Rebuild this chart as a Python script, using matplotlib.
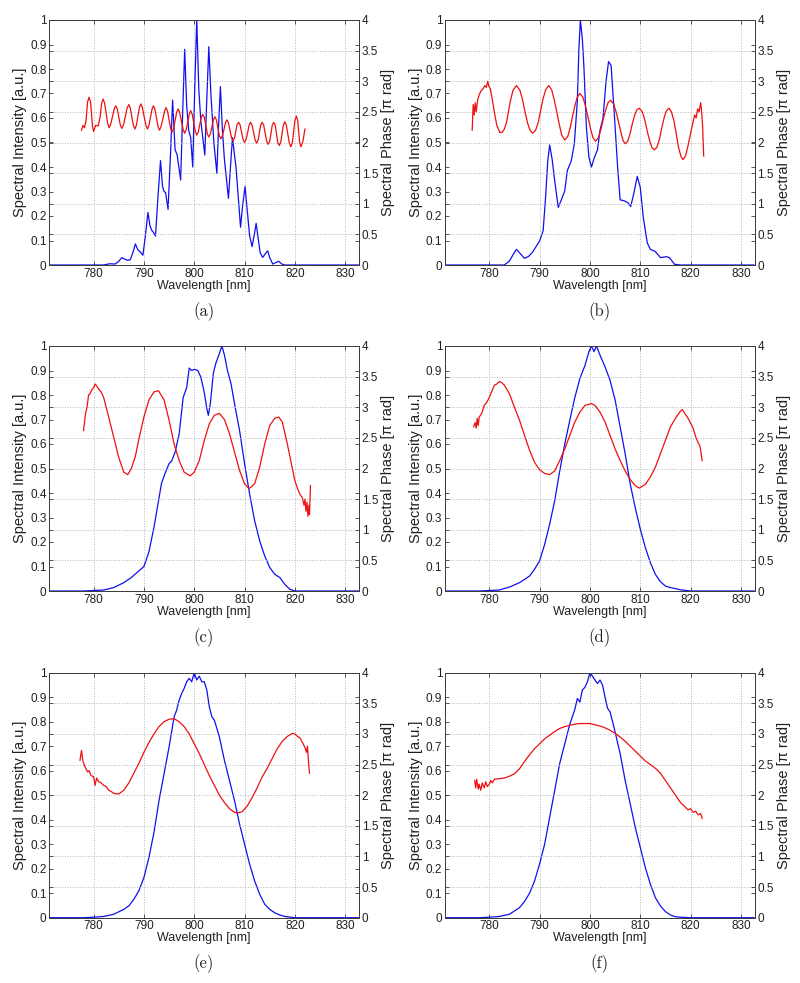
import matplotlib
matplotlib.use("Agg")
import matplotlib.pyplot as plt
from matplotlib.ticker import MultipleLocator, FormatStrFormatter

# ---- panel (a) ----
a_int_wl = [771.3, 782.0, 783.2, 784.3, 785.0, 785.6, 786.2, 786.8, 787.3, 787.8, 788.3, 788.8, 789.2, 789.8,
            790.3, 790.8, 791.2, 791.6, 791.9, 792.3, 792.8, 793.3, 793.7, 794.0, 794.3, 794.8, 795.3, 795.7,
            796.2, 796.6, 797.3, 797.7, 798.1, 798.5, 798.9, 799.3, 799.7, 800.1, 800.5, 800.9, 801.3, 802.1,
            802.5, 802.9, 803.3, 803.9, 804.5, 804.8, 805.2, 805.6, 806.0, 806.8, 807.2, 807.6, 808.0, 808.3,
            809.2, 809.6, 810.1, 810.5, 811.0, 811.5, 811.9, 812.3, 812.7, 813.1, 813.6, 814.1, 814.6, 815.0,
            815.6, 816.2, 816.8, 817.4, 818.0, 832.6]
a_int = [0, 0, 0.005, 0.004, 0.015, 0.030, 0.024, 0.019, 0.022, 0.050, 0.086, 0.062, 0.055, 0.040,
         0.120, 0.215, 0.160, 0.140, 0.133, 0.118, 0.280, 0.426, 0.320, 0.300, 0.296, 0.227, 0.460, 0.673,
         0.470, 0.450, 0.347, 0.620, 0.880, 0.650, 0.550, 0.520, 0.400, 0.720, 1.000, 0.720, 0.590, 0.449,
         0.680, 0.891, 0.700, 0.500, 0.374, 0.550, 0.728, 0.550, 0.430, 0.272, 0.400, 0.520, 0.450, 0.400,
         0.154, 0.240, 0.320, 0.230, 0.120, 0.075, 0.120, 0.170, 0.110, 0.050, 0.031, 0.045, 0.058, 0.030,
         0.004, 0.010, 0.015, 0.004, 0, 0]
a_ph_wl = [777.6, 777.9, 778.2, 778.5, 778.8, 779.1, 779.4, 779.6, 779.8, 780.0, 780.4, 780.9, 781.3, 781.6,
           781.9, 782.2, 782.5, 782.8, 783.1, 783.4, 783.75, 784.1, 784.4, 784.7, 785.0, 785.3, 785.6, 785.95,
           786.3, 786.65, 787.0, 787.3, 787.6, 787.9, 788.2, 788.5, 788.8, 789.1, 789.4, 789.7, 790.05, 790.4,
           790.7, 791.0, 791.3, 791.6, 791.9, 792.2, 792.5, 792.8, 793.1, 793.4, 793.75, 794.1, 794.4, 794.7,
           795.0, 795.3, 795.6, 795.9, 796.2, 796.5, 796.8, 797.1, 797.45, 797.8, 798.1, 798.4, 798.7, 799.0,
           799.3, 799.6, 799.9, 800.2, 800.5, 800.8, 801.1, 801.4, 801.7, 802.0, 802.3, 802.6, 802.9, 803.2,
           803.5, 803.8, 804.1, 804.4, 804.7, 805.0, 805.3, 805.6, 805.9, 806.2, 806.5, 806.8, 807.1, 807.4,
           807.7, 808.0, 808.25, 808.5, 808.8, 809.1, 809.4, 809.7, 810.0, 810.3, 810.6, 810.9, 811.2, 811.5,
           811.8, 812.1, 812.4, 812.7, 812.95, 813.2, 813.5, 813.8, 814.1, 814.4, 814.7, 815.0, 815.25, 815.5,
           815.8, 816.1, 816.35, 816.6, 816.9, 817.2, 817.45, 817.7, 818.0, 818.3, 818.6, 818.9, 819.2, 819.5,
           819.75, 820.0, 820.3, 820.55, 820.75, 820.95, 821.2, 821.6, 822.0]
a_ph = [2.20, 2.28, 2.24, 2.36, 2.66, 2.74, 2.66, 2.46, 2.26, 2.18, 2.28, 2.27, 2.42, 2.64,
        2.71, 2.64, 2.48, 2.31, 2.24, 2.30, 2.42, 2.55, 2.60, 2.55, 2.42, 2.29, 2.23, 2.29,
        2.42, 2.56, 2.62, 2.56, 2.42, 2.28, 2.22, 2.28, 2.42, 2.57, 2.63, 2.57, 2.42, 2.28,
        2.22, 2.28, 2.41, 2.54, 2.60, 2.54, 2.40, 2.26, 2.20, 2.26, 2.38, 2.51, 2.57, 2.51,
        2.37, 2.23, 2.17, 2.23, 2.36, 2.49, 2.55, 2.49, 2.35, 2.21, 2.15, 2.21, 2.33, 2.46,
        2.52, 2.46, 2.32, 2.18, 2.12, 2.17, 2.29, 2.41, 2.46, 2.41, 2.28, 2.14, 2.09, 2.14,
        2.25, 2.37, 2.42, 2.37, 2.24, 2.11, 2.06, 2.11, 2.21, 2.32, 2.37, 2.32, 2.20, 2.08,
        2.03, 2.07, 2.18, 2.29, 2.33, 2.29, 2.17, 2.05, 2.00, 2.05, 2.16, 2.28, 2.33, 2.28,
        2.16, 2.04, 1.99, 2.04, 2.16, 2.28, 2.33, 2.28, 2.15, 2.02, 1.97, 2.02, 2.15, 2.28,
        2.33, 2.28, 2.14, 2.00, 1.95, 2.01, 2.14, 2.28, 2.34, 2.28, 2.14, 1.99, 1.93, 2.00,
        2.18, 2.36, 2.43, 2.36, 2.18, 2.00, 1.93, 2.02, 2.22]

# ---- panel (b) ----
b_int_wl = [771.3, 783.0, 784.0, 784.8, 785.4, 786.0, 787.0, 787.8, 788.5, 789.3, 790.0, 790.7, 791.2, 791.6,
            792.0, 792.5, 793.0, 793.7, 794.2, 794.5, 795.0, 795.5, 796.3, 796.9, 797.5, 797.8, 798.1, 798.5,
            798.8, 799.3, 799.8, 800.3, 800.9, 801.5, 802.0, 802.6, 803.2, 803.7, 804.2, 804.8, 805.5, 806.0,
            806.8, 807.5, 808.1, 808.7, 809.4, 810.0, 810.6, 811.4, 812.0, 813.0, 814.0, 815.2, 815.8, 816.8,
            818.0, 832.6]
b_int = [0, 0, 0.016, 0.045, 0.064, 0.050, 0.027, 0.035, 0.050, 0.075, 0.098, 0.140, 0.280, 0.420,
         0.490, 0.430, 0.344, 0.235, 0.260, 0.276, 0.303, 0.385, 0.426, 0.495, 0.670, 0.880, 1.000, 0.920,
         0.810, 0.560, 0.440, 0.400, 0.440, 0.470, 0.550, 0.600, 0.750, 0.830, 0.815, 0.630, 0.400, 0.266,
         0.262, 0.255, 0.239, 0.290, 0.362, 0.317, 0.194, 0.090, 0.064, 0.055, 0.030, 0.034, 0.030, 0.003,
         0, 0]
b_ph_wl = [776.6, 776.8, 777.0, 777.2, 777.4, 777.7, 778.0, 778.4, 778.8, 779.1, 779.4, 779.7, 779.9, 780.2,
           780.5, 780.8, 781.1, 781.5, 782.1, 782.6, 783.0, 783.4, 783.8, 784.2, 784.7, 785.4, 786.1, 786.6,
           787.1, 787.6, 788.1, 788.6, 789.2, 789.7, 790.2, 790.7, 791.2, 791.8, 792.4, 792.9, 793.4, 793.9,
           794.4, 795.0, 795.6, 796.1, 796.6, 797.1, 797.5, 798.0, 798.6, 799.1, 799.6, 800.1, 800.6, 801.1,
           801.7, 802.2, 802.7, 803.2, 803.6, 804.1, 804.7, 805.2, 805.7, 806.2, 806.6, 807.0, 807.5, 808.0,
           808.4, 808.9, 809.3, 809.8, 810.4, 810.9, 811.4, 811.9, 812.3, 812.8, 813.3, 813.8, 814.3, 814.8,
           815.2, 815.7, 816.2, 816.7, 817.2, 817.6, 818.1, 818.5, 819.0, 819.5, 820.0, 820.4, 820.8, 821.1,
           821.4, 821.7, 822.0, 822.2, 822.4, 822.6]
b_ph = [2.20, 2.62, 2.45, 2.65, 2.50, 2.70, 2.78, 2.85, 2.88, 2.93, 2.90, 3.00, 2.92, 2.88,
        2.75, 2.60, 2.45, 2.28, 2.16, 2.17, 2.22, 2.32, 2.50, 2.68, 2.85, 2.93, 2.85, 2.70,
        2.50, 2.32, 2.20, 2.15, 2.20, 2.32, 2.52, 2.72, 2.86, 2.93, 2.86, 2.70, 2.50, 2.30,
        2.12, 2.04, 2.10, 2.25, 2.45, 2.63, 2.74, 2.80, 2.74, 2.60, 2.42, 2.23, 2.08, 2.02,
        2.08, 2.22, 2.40, 2.55, 2.65, 2.69, 2.63, 2.50, 2.33, 2.15, 2.03, 1.98, 2.02, 2.15,
        2.30, 2.45, 2.53, 2.56, 2.50, 2.37, 2.18, 2.02, 1.92, 1.88, 1.92, 2.05, 2.25, 2.42,
        2.52, 2.56, 2.50, 2.35, 2.12, 1.92, 1.77, 1.72, 1.78, 1.95, 2.15, 2.30, 2.45, 2.40,
        2.55, 2.50, 2.65, 2.50, 2.25, 1.78]

# ---- panel (c) ----
c_int_wl = [771.3, 778.0, 780.0, 782.0, 784.0, 786.0, 787.5, 789.0, 790.0, 791.0, 792.0, 793.0, 793.5, 794.2,
            795.0, 795.5, 796.2, 797.0, 797.8, 798.5, 799.0, 799.5, 800.0, 800.7, 801.3, 802.0, 802.5, 802.8,
            803.2, 803.8, 804.3, 805.0, 805.5, 806.0, 806.6, 807.3, 808.0, 809.0, 810.0, 811.0, 812.0, 813.0,
            814.0, 815.0, 816.0, 817.0, 818.0, 819.0, 820.0, 832.6]
c_int = [0, 0, 0.002, 0.004, 0.014, 0.034, 0.055, 0.082, 0.100, 0.160, 0.260, 0.380, 0.440, 0.480,
         0.520, 0.530, 0.567, 0.640, 0.790, 0.830, 0.910, 0.900, 0.905, 0.900, 0.874, 0.810, 0.745, 0.717,
         0.765, 0.890, 0.930, 0.970, 1.000, 0.963, 0.900, 0.847, 0.765, 0.656, 0.520, 0.396, 0.287, 0.205,
         0.143, 0.096, 0.068, 0.055, 0.027, 0.007, 0, 0]
c_ph_wl = [778.0, 778.2, 778.4, 778.7, 779.0, 779.3, 779.6, 780.0, 780.3, 780.6, 781.0, 781.5, 782.0, 783.0,
           784.0, 785.0, 786.0, 786.8, 787.5, 788.3, 789.0, 790.0, 791.0, 792.0, 792.9, 794.0, 795.0, 796.0,
           797.0, 798.0, 799.2, 800.0, 801.0, 802.0, 803.0, 804.0, 805.0, 806.0, 807.0, 808.0, 809.0, 810.0,
           810.9, 812.0, 813.0, 814.0, 815.0, 816.0, 816.8, 817.5, 818.5, 819.3, 820.0, 820.5, 821.0, 821.5,
           821.8, 822.0, 822.2, 822.4, 822.6, 822.8, 822.9, 823.1]
c_ph = [2.62, 2.75, 2.90, 3.00, 3.20, 3.22, 3.28, 3.32, 3.38, 3.35, 3.30, 3.25, 3.16, 2.84,
        2.51, 2.18, 1.94, 1.90, 2.00, 2.20, 2.48, 2.84, 3.12, 3.25, 3.27, 3.12, 2.79, 2.40,
        2.13, 1.94, 1.88, 1.94, 2.13, 2.46, 2.73, 2.87, 2.90, 2.80, 2.57, 2.27, 1.97, 1.75,
        1.67, 1.75, 2.02, 2.40, 2.70, 2.82, 2.84, 2.76, 2.40, 2.08, 1.80, 1.68, 1.58, 1.52,
        1.40, 1.50, 1.30, 1.45, 1.22, 1.40, 1.25, 1.72]

# ---- panel (d) ----
d_int_wl = [771.3, 778.0, 780.0, 782.0, 784.0, 786.0, 788.0, 789.0, 790.0, 791.0, 792.0, 793.0, 794.0, 795.0,
            796.0, 797.0, 798.0, 799.0, 799.8, 800.3, 800.8, 801.3, 802.0, 803.0, 804.0, 805.0, 806.0, 807.0,
            808.0, 809.0, 810.0, 811.0, 812.0, 813.0, 814.0, 815.0, 816.0, 818.0, 820.0, 832.6]
d_int = [0, 0, 0.002, 0.004, 0.016, 0.034, 0.061, 0.089, 0.123, 0.190, 0.273, 0.369, 0.490, 0.600,
         0.697, 0.790, 0.867, 0.920, 0.977, 1.000, 0.977, 1.000, 0.963, 0.915, 0.860, 0.780, 0.670, 0.560,
         0.437, 0.340, 0.253, 0.178, 0.116, 0.068, 0.038, 0.020, 0.014, 0.005, 0, 0]
d_ph_wl = [776.9, 777.2, 777.4, 777.6, 777.8, 778.0, 778.5, 779.0, 779.5, 780.0, 780.5, 781.0, 781.5, 782.0,
           782.5, 783.0, 784.0, 785.0, 786.0, 787.0, 788.0, 789.0, 790.0, 791.0, 792.0, 793.0, 794.0, 795.0,
           796.0, 797.0, 798.0, 799.0, 800.3, 801.0, 802.0, 803.0, 804.0, 805.0, 806.0, 807.0, 808.0, 809.0,
           809.8, 811.0, 812.0, 813.0, 814.0, 815.0, 816.0, 817.0, 818.0, 818.4, 819.0, 819.5, 820.0, 820.5,
           821.0, 821.5, 821.8, 822.0, 822.3]
d_ph = [2.68, 2.75, 2.66, 2.82, 2.70, 2.84, 2.90, 3.03, 3.08, 3.16, 3.26, 3.36, 3.38, 3.42,
        3.40, 3.36, 3.22, 3.00, 2.79, 2.54, 2.30, 2.10, 1.98, 1.92, 1.90, 1.96, 2.13, 2.32,
        2.54, 2.76, 2.92, 3.03, 3.06, 3.03, 2.92, 2.76, 2.54, 2.32, 2.13, 1.96, 1.82, 1.72,
        1.68, 1.74, 1.86, 2.02, 2.24, 2.46, 2.68, 2.82, 2.94, 2.96, 2.88, 2.82, 2.74, 2.66,
        2.52, 2.42, 2.38, 2.30, 2.13]

# ---- panel (e) ----
e_int_wl = [771.3, 778.0, 780.0, 782.0, 784.0, 786.0, 787.0, 788.0, 789.0, 790.0, 791.0, 792.0, 793.0, 794.0,
            795.0, 796.0, 796.5, 797.0, 797.5, 798.0, 798.5, 799.0, 799.5, 800.0, 800.5, 801.0, 801.5, 802.0,
            802.5, 803.0, 803.5, 804.0, 804.5, 805.0, 806.0, 807.0, 808.0, 809.0, 810.0, 811.0, 812.0, 813.0,
            814.0, 815.0, 816.0, 817.0, 818.0, 820.0, 832.6]
e_int = [0, 0, 0.002, 0.005, 0.014, 0.034, 0.048, 0.075, 0.110, 0.164, 0.246, 0.348, 0.478, 0.587,
         0.697, 0.820, 0.847, 0.888, 0.915, 0.936, 0.963, 0.977, 0.963, 1.000, 0.970, 0.986, 0.963, 0.963,
         0.929, 0.860, 0.820, 0.806, 0.772, 0.738, 0.642, 0.560, 0.478, 0.383, 0.300, 0.219, 0.150, 0.096,
         0.055, 0.034, 0.020, 0.011, 0.005, 0, 0]
e_ph_wl = [777.3, 777.6, 777.9, 778.2, 778.5, 778.8, 779.1, 779.5, 780.0, 780.3, 780.6, 781.0, 781.5, 782.0,
           782.5, 783.0, 783.5, 784.0, 785.0, 786.0, 787.0, 788.0, 789.0, 790.0, 791.0, 792.0, 793.0, 794.0,
           795.0, 796.0, 797.0, 798.0, 799.0, 800.0, 801.0, 802.0, 803.0, 804.0, 805.0, 806.0, 807.0, 808.0,
           808.6, 809.5, 810.5, 811.5, 812.5, 813.5, 814.5, 815.5, 816.5, 817.5, 818.5, 819.5, 820.0, 820.5,
           821.0, 821.5, 822.0, 822.3, 822.5, 822.7, 822.9]
e_ph = [2.57, 2.73, 2.55, 2.48, 2.43, 2.38, 2.40, 2.32, 2.30, 2.16, 2.28, 2.22, 2.20, 2.16,
        2.14, 2.08, 2.06, 2.03, 2.02, 2.08, 2.20, 2.36, 2.52, 2.70, 2.86, 3.00, 3.12, 3.20,
        3.24, 3.25, 3.20, 3.12, 3.00, 2.84, 2.68, 2.50, 2.32, 2.16, 2.00, 1.88, 1.78, 1.72,
        1.71, 1.73, 1.82, 1.96, 2.12, 2.30, 2.44, 2.60, 2.76, 2.88, 2.96, 3.01, 3.00, 2.96,
        2.94, 2.86, 2.78, 2.70, 2.80, 2.55, 2.36]

# ---- panel (f) ----
f_int_wl = [771.3, 778.0, 780.0, 782.0, 784.0, 786.0, 787.0, 788.0, 789.0, 790.0, 791.0, 792.0, 793.0, 794.0,
            795.0, 796.0, 797.0, 797.5, 798.0, 798.5, 799.0, 799.5, 800.0, 800.5, 801.0, 801.5, 802.0, 802.5,
            803.0, 803.5, 804.0, 804.5, 805.0, 806.0, 807.0, 808.0, 809.0, 810.0, 811.0, 812.0, 813.0, 814.0,
            815.0, 816.0, 817.0, 818.0, 820.0, 832.6]
f_int = [0, 0, 0.002, 0.005, 0.014, 0.041, 0.066, 0.100, 0.150, 0.220, 0.300, 0.410, 0.520, 0.630,
         0.710, 0.790, 0.850, 0.895, 0.880, 0.930, 0.940, 0.963, 1.000, 0.986, 0.970, 0.956, 0.970, 0.950,
         0.900, 0.855, 0.840, 0.800, 0.758, 0.670, 0.560, 0.465, 0.369, 0.287, 0.205, 0.137, 0.082, 0.048,
         0.025, 0.011, 0.004, 0.002, 0, 0]
f_ph_wl = [777.1, 777.3, 777.5, 777.8, 778.0, 778.3, 778.6, 779.0, 779.3, 779.6, 780.0, 780.3, 780.6, 781.0,
           782.0, 783.0, 784.0, 785.0, 786.0, 787.0, 788.0, 789.0, 790.0, 791.0, 792.0, 793.0, 794.0, 795.0,
           796.0, 797.0, 798.0, 799.0, 800.0, 801.0, 802.0, 803.0, 804.0, 805.0, 806.0, 807.0, 808.0, 809.0,
           810.0, 811.0, 812.0, 813.0, 814.0, 815.0, 816.0, 817.0, 818.0, 819.0, 819.5, 820.0, 820.5, 821.0,
           821.5, 822.0, 822.3]
f_ph = [2.24, 2.12, 2.26, 2.10, 2.18, 2.08, 2.20, 2.12, 2.22, 2.14, 2.18, 2.24, 2.20, 2.26,
        2.27, 2.28, 2.31, 2.35, 2.43, 2.55, 2.66, 2.76, 2.84, 2.92, 2.98, 3.04, 3.09, 3.12,
        3.14, 3.16, 3.17, 3.17, 3.17, 3.15, 3.13, 3.10, 3.06, 3.01, 2.95, 2.88, 2.80, 2.72,
        2.64, 2.56, 2.50, 2.44, 2.36, 2.24, 2.12, 2.00, 1.88, 1.80, 1.76, 1.78, 1.72, 1.74,
        1.68, 1.70, 1.62]

panels = [
    ("(a)", a_int_wl, a_int, a_ph_wl, a_ph),
    ("(b)", b_int_wl, b_int, b_ph_wl, b_ph),
    ("(c)", c_int_wl, c_int, c_ph_wl, c_ph),
    ("(d)", d_int_wl, d_int, d_ph_wl, d_ph),
    ("(e)", e_int_wl, e_int, e_ph_wl, e_ph),
    ("(f)", f_int_wl, f_int, f_ph_wl, f_ph),
]

plt.rcParams['font.family'] = ['Liberation Sans', 'DejaVu Sans']

W, H = 800, 983
fig = plt.figure(figsize=(W / 100, H / 100), dpi=100)

col_left = [49.3, 445.0]        # px
row_top = [20.0, 346.0, 672.7]  # px
caption_y = [312, 638, 964]     # px
ax_w, ax_h = 309.5, 245.0

axis_col = '#3c3c3c'
text_col = '#202020'
grid_kw = dict(color='#b4b4b4', linestyle=':', linewidth=0.7)

for i, (tag, iwl, ival, pwl, pval) in enumerate(panels):
    left = col_left[i % 2]
    top = row_top[i // 2]
    rect = [left / W, 1 - (top + ax_h) / H, ax_w / W, ax_h / H]

    ax = fig.add_axes(rect)
    ax2 = ax.twinx()

    ax.plot(iwl, ival, color='#1010ee', lw=0.9)
    ax2.plot(pwl, pval, color='#ee1010', lw=0.9)

    ax.set_xlim(771.2, 832.7)
    ax.set_ylim(0, 1)
    ax2.set_ylim(0, 4)
    ax.xaxis.set_major_locator(MultipleLocator(10))
    ax.yaxis.set_major_locator(MultipleLocator(0.1))
    ax2.yaxis.set_major_locator(MultipleLocator(0.5))
    ax.yaxis.set_major_formatter(FormatStrFormatter('%g'))
    ax2.yaxis.set_major_formatter(FormatStrFormatter('%g'))

    ax.grid(axis='x', **grid_kw)
    ax2.grid(axis='y', **grid_kw)
    ax2.set_axisbelow(True)

    for a in (ax, ax2):
        for s in a.spines.values():
            s.set_color(axis_col)
            s.set_linewidth(0.7)
    ax.tick_params(direction='in', length=3, width=0.6, colors=axis_col, labelcolor=text_col,
                   labelsize=8.5, pad=2, top=True, right=True)
    ax2.tick_params(direction='in', length=3, width=0.6, colors=axis_col, labelcolor=text_col,
                    labelsize=8.5, pad=2, left=True)

    ax.set_xlabel('Wavelength [nm]', fontsize=9, color=text_col, labelpad=0)
    ax.set_ylabel('Spectral Intensity [a.u.]', fontsize=10.5, color=text_col, labelpad=2)
    ax2.set_ylabel('Spectral Phase [π rad]', fontsize=10.5, color=text_col, labelpad=2)

    fig.text((left + ax_w / 2) / W, 1 - caption_y[i // 2] / H, tag,
             family='cmr10', fontsize=12, ha='center', va='center', color=text_col)

fig.savefig('out.png', dpi=100)
